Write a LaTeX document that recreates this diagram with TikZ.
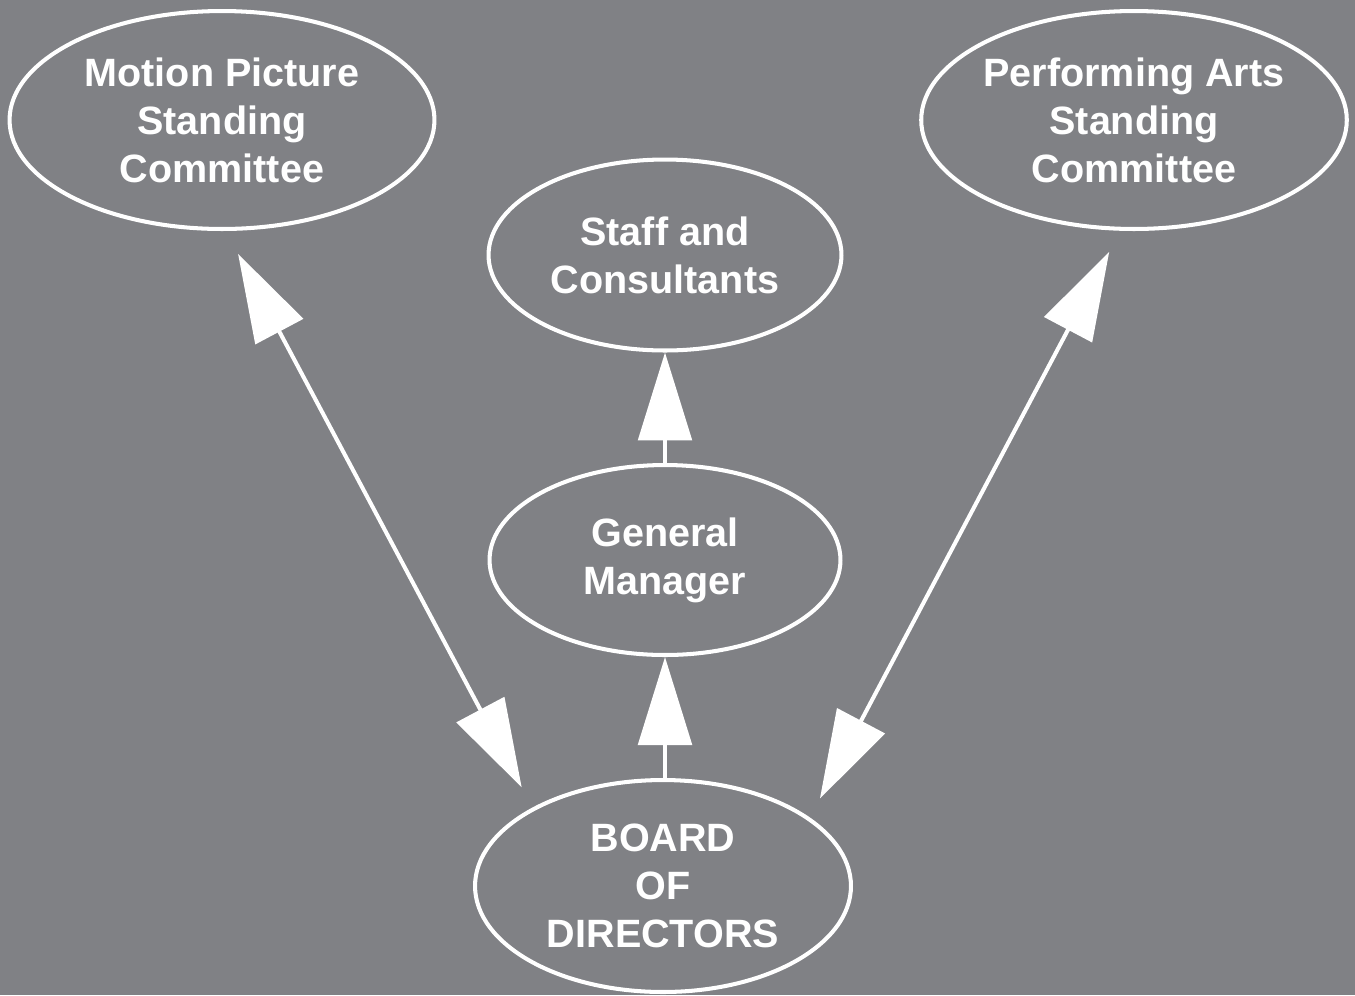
\documentclass[tikz,border=0pt]{standalone}
\usepackage{fontspec}
\setmainfont{Liberation Sans}
\usepackage{xcolor}
\usetikzlibrary{shapes, arrows.meta, positioning}
\definecolor{bggray}{RGB}{128,129,133}

\begin{document}
\begin{tikzpicture}[x=0.02cm, y=-0.02cm, line width=2.3pt,
    bubble/.style={ellipse, draw=white, inner sep=0pt, text=white, align=center,
        font=\fontsize{22.5}{27.3}\selectfont\bfseries},
    link/.style={white, >={Triangle[length=1.76cm, width=1.07cm]}}]
    % Background
    \fill[bggray] (0,0) rectangle (1355,995);
    \useasboundingbox (0,0) rectangle (1355,995);
    % Nodes
    \node (motion) [bubble, minimum width=8.5cm, minimum height=4.36cm] at (222,120) {Motion Picture\\Standing\\Committee};
    \node (performing) [bubble, minimum width=8.5cm, minimum height=4.36cm] at (1134,120) {Performing Arts\\Standing\\Committee};
    \node (staff) [bubble, minimum width=7.06cm, minimum height=3.82cm] at (665,255) {Staff and\\Consultants};
    \node (manager) [bubble, minimum width=7.02cm, minimum height=3.8cm] at (665,560) {General\\Manager};
    \node (board) [bubble, minimum width=7.52cm, minimum height=4.24cm] at (663,886) {BOARD\\OF\\DIRECTORS};
    % Arrows
    \draw[link, <->, shorten <=0.52cm, shorten >=0.46cm] (motion.-88.5) -- (board.149.3);
    \draw[link, <->, shorten <=0.48cm, shorten >=0.43cm] (performing.-97.2) -- (board.25.3);
    \draw[link, ->] (manager.north) -- (staff.south);
    \draw[link, ->] (board.north -| manager.south) -- (manager.south);
\end{tikzpicture}
\end{document}
